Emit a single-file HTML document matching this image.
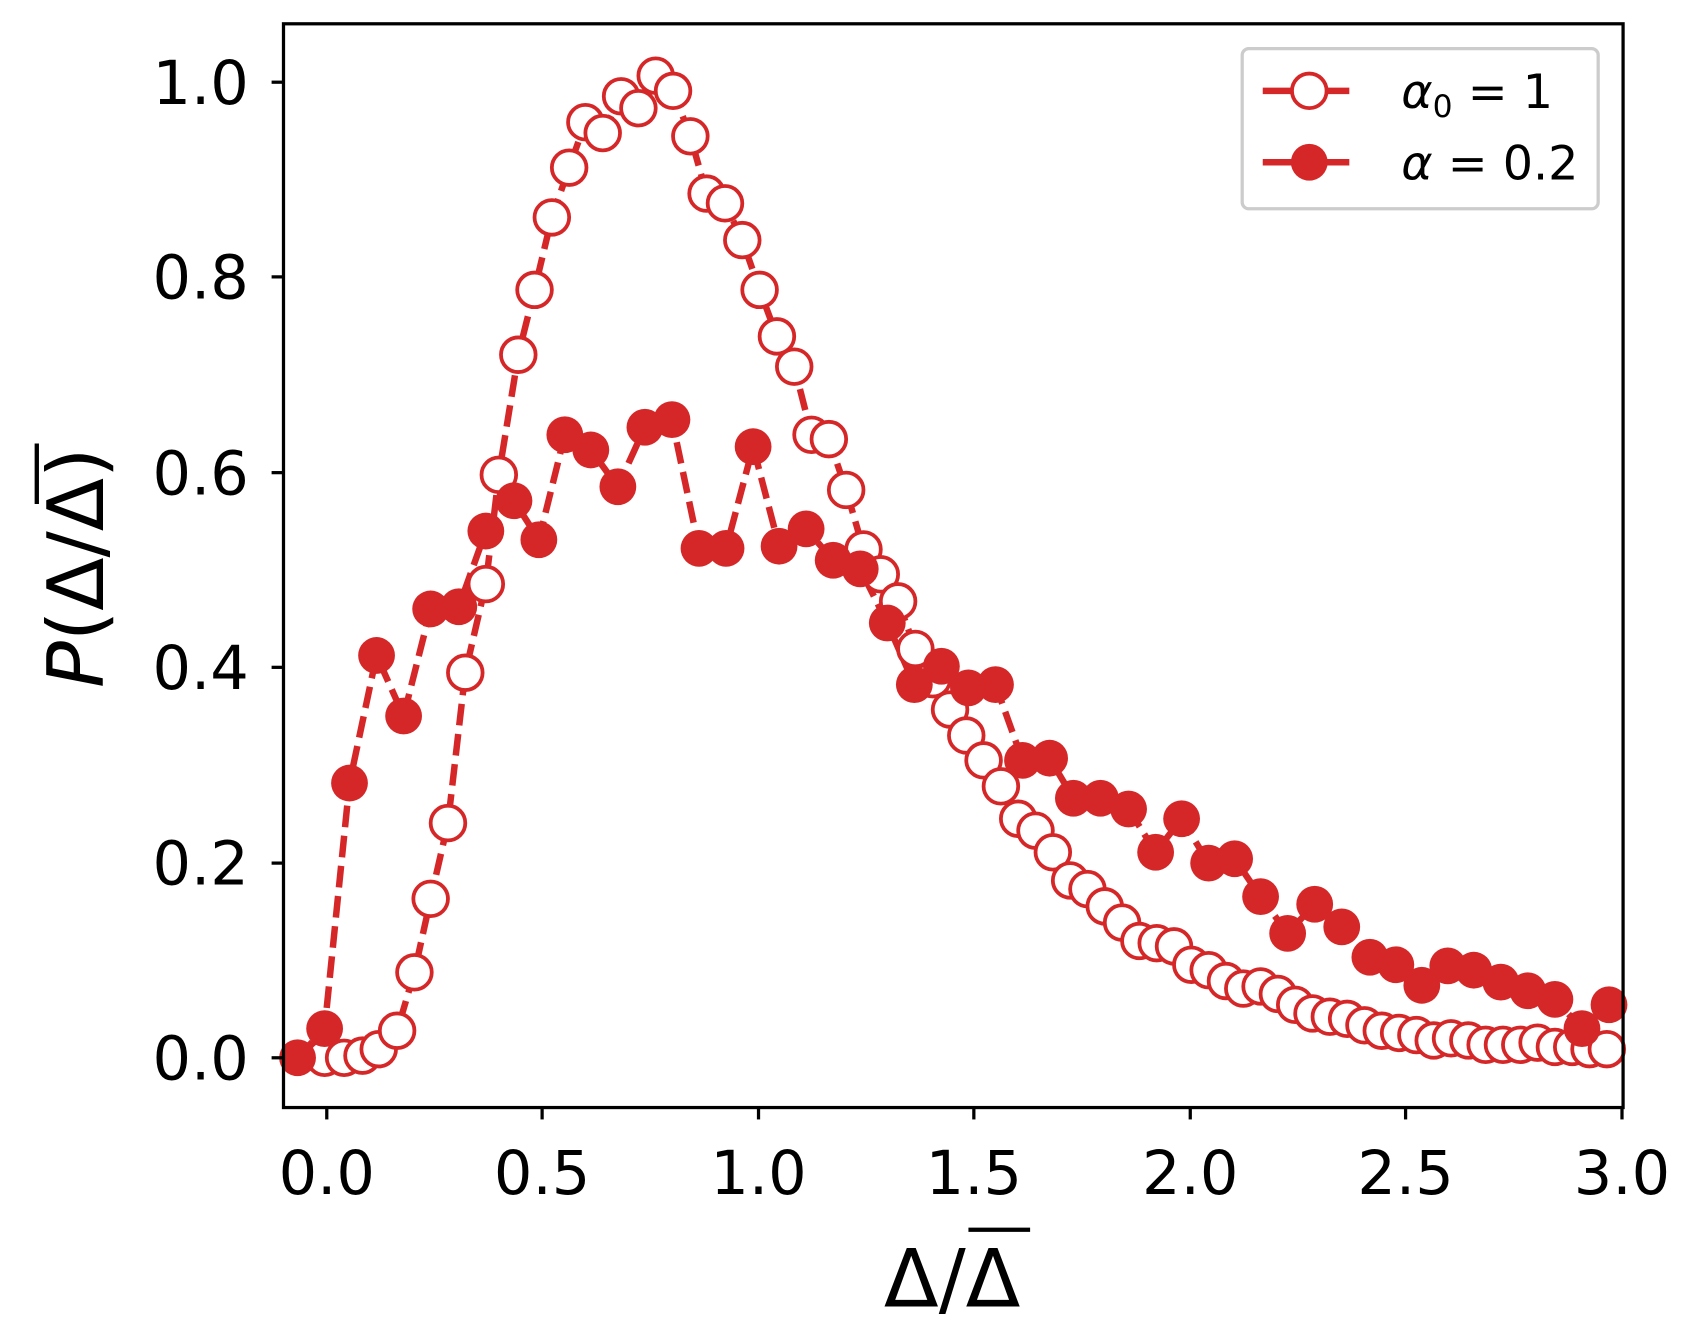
<!DOCTYPE html>
<html><head><meta charset="utf-8"><style>html,body{margin:0;padding:0;background:#fff}svg{display:block}</style></head>
<body>
<svg width="1688" height="1339" viewBox="0 0 1560 1238" preserveAspectRatio="none" xmlns="http://www.w3.org/2000/svg" font-family="'DejaVu Sans', 'Liberation Sans', sans-serif">
<rect width="1560" height="1238" fill="#fff"/>
<g stroke="#d62728" stroke-width="6" fill="none" stroke-dasharray="20,8">
<polyline points="300,978 318,978 335,976 350,970 367,953 383,899 398,831 414,761 430,622 449,540 461,439 479,328 494,268 510,201 526,155 541,113 557,123 574,89 590,100 606,70 622,84 638,126 653,179 670,188 686,222 702,268 718,311 734,339 750,402 766,406 782,453 798,508 814,531 830,556 846,600 862,628 878,656 893,680 909,703 925,727 941,757 957,768 973,788 989,814 1005,822 1021,838 1037,853 1053,870 1069,872 1085,875 1101,892 1117,897 1133,907 1149,914 1165,912 1181,919 1197,929 1213,937 1229,940 1245,942 1261,948 1277,953 1293,955 1309,957 1325,962 1341,960 1357,962 1373,966 1389,966 1405,966 1421,964 1437,968 1453,968 1469,970 1485,970"/>
<polyline points="275,978 300,951 323,724 348,606 373,662 398,563 424,561 449,491 475,463 498,499 522,402 546,416 571,450 596,395 621,388 646,507 671,507 696,413 720,505 745,489 770,518 795,526 820,576 845,633 870,616 895,636 920,633 945,703 970,701 992,738 1017,738 1043,748 1068,788 1092,757 1117,798 1141,794 1165,829 1190,863 1215,836 1240,857 1266,885 1290,892 1314,911 1338,893 1362,897 1387,908 1412,916 1437,924 1462,951 1487,929"/>
</g>
<g fill="#fff" stroke="#d62728" stroke-width="3.5">
<circle cx="300" cy="978" r="16"/><circle cx="318" cy="978" r="16"/><circle cx="335" cy="976" r="16"/><circle cx="350" cy="970" r="16"/><circle cx="367" cy="953" r="16"/><circle cx="383" cy="899" r="16"/><circle cx="398" cy="831" r="16"/><circle cx="414" cy="761" r="16"/><circle cx="430" cy="622" r="16"/><circle cx="449" cy="540" r="16"/><circle cx="461" cy="439" r="16"/><circle cx="479" cy="328" r="16"/><circle cx="494" cy="268" r="16"/><circle cx="510" cy="201" r="16"/><circle cx="526" cy="155" r="16"/><circle cx="541" cy="113" r="16"/><circle cx="557" cy="123" r="16"/><circle cx="574" cy="89" r="16"/><circle cx="590" cy="100" r="16"/><circle cx="606" cy="70" r="16"/><circle cx="622" cy="84" r="16"/><circle cx="638" cy="126" r="16"/><circle cx="653" cy="179" r="16"/><circle cx="670" cy="188" r="16"/><circle cx="686" cy="222" r="16"/><circle cx="702" cy="268" r="16"/><circle cx="718" cy="311" r="16"/><circle cx="734" cy="339" r="16"/><circle cx="750" cy="402" r="16"/><circle cx="766" cy="406" r="16"/><circle cx="782" cy="453" r="16"/><circle cx="798" cy="508" r="16"/><circle cx="814" cy="531" r="16"/><circle cx="830" cy="556" r="16"/><circle cx="846" cy="600" r="16"/><circle cx="862" cy="628" r="16"/><circle cx="878" cy="656" r="16"/><circle cx="893" cy="680" r="16"/><circle cx="909" cy="703" r="16"/><circle cx="925" cy="727" r="16"/><circle cx="941" cy="757" r="16"/><circle cx="957" cy="768" r="16"/><circle cx="973" cy="788" r="16"/><circle cx="989" cy="814" r="16"/><circle cx="1005" cy="822" r="16"/><circle cx="1021" cy="838" r="16"/><circle cx="1037" cy="853" r="16"/><circle cx="1053" cy="870" r="16"/><circle cx="1069" cy="872" r="16"/><circle cx="1085" cy="875" r="16"/><circle cx="1101" cy="892" r="16"/><circle cx="1117" cy="897" r="16"/><circle cx="1133" cy="907" r="16"/><circle cx="1149" cy="914" r="16"/><circle cx="1165" cy="912" r="16"/><circle cx="1181" cy="919" r="16"/><circle cx="1197" cy="929" r="16"/><circle cx="1213" cy="937" r="16"/><circle cx="1229" cy="940" r="16"/><circle cx="1245" cy="942" r="16"/><circle cx="1261" cy="948" r="16"/><circle cx="1277" cy="953" r="16"/><circle cx="1293" cy="955" r="16"/><circle cx="1309" cy="957" r="16"/><circle cx="1325" cy="962" r="16"/><circle cx="1341" cy="960" r="16"/><circle cx="1357" cy="962" r="16"/><circle cx="1373" cy="966" r="16"/><circle cx="1389" cy="966" r="16"/><circle cx="1405" cy="966" r="16"/><circle cx="1421" cy="964" r="16"/><circle cx="1437" cy="968" r="16"/><circle cx="1453" cy="968" r="16"/><circle cx="1469" cy="970" r="16"/><circle cx="1485" cy="970" r="16"/>
</g>
<g fill="#d62728">
<circle cx="275" cy="978" r="17"/><circle cx="300" cy="951" r="17"/><circle cx="323" cy="724" r="17"/><circle cx="348" cy="606" r="17"/><circle cx="373" cy="662" r="17"/><circle cx="398" cy="563" r="17"/><circle cx="424" cy="561" r="17"/><circle cx="449" cy="491" r="17"/><circle cx="475" cy="463" r="17"/><circle cx="498" cy="499" r="17"/><circle cx="522" cy="402" r="17"/><circle cx="546" cy="416" r="17"/><circle cx="571" cy="450" r="17"/><circle cx="596" cy="395" r="17"/><circle cx="621" cy="388" r="17"/><circle cx="646" cy="507" r="17"/><circle cx="671" cy="507" r="17"/><circle cx="696" cy="413" r="17"/><circle cx="720" cy="505" r="17"/><circle cx="745" cy="489" r="17"/><circle cx="770" cy="518" r="17"/><circle cx="795" cy="526" r="17"/><circle cx="820" cy="576" r="17"/><circle cx="845" cy="633" r="17"/><circle cx="870" cy="616" r="17"/><circle cx="895" cy="636" r="17"/><circle cx="920" cy="633" r="17"/><circle cx="945" cy="703" r="17"/><circle cx="970" cy="701" r="17"/><circle cx="992" cy="738" r="17"/><circle cx="1017" cy="738" r="17"/><circle cx="1043" cy="748" r="17"/><circle cx="1068" cy="788" r="17"/><circle cx="1092" cy="757" r="17"/><circle cx="1117" cy="798" r="17"/><circle cx="1141" cy="794" r="17"/><circle cx="1165" cy="829" r="17"/><circle cx="1190" cy="863" r="17"/><circle cx="1215" cy="836" r="17"/><circle cx="1240" cy="857" r="17"/><circle cx="1266" cy="885" r="17"/><circle cx="1290" cy="892" r="17"/><circle cx="1314" cy="911" r="17"/><circle cx="1338" cy="893" r="17"/><circle cx="1362" cy="897" r="17"/><circle cx="1387" cy="908" r="17"/><circle cx="1412" cy="916" r="17"/><circle cx="1437" cy="924" r="17"/><circle cx="1462" cy="951" r="17"/><circle cx="1487" cy="929" r="17"/>
</g>
<rect x="262" y="22" width="1238" height="1002" fill="none" stroke="#000" stroke-width="3"/>
<g stroke="#000" stroke-width="3">
<line x1="262" y1="978" x2="251" y2="978"/><line x1="262" y1="798" x2="251" y2="798"/><line x1="262" y1="617" x2="251" y2="617"/><line x1="262" y1="437" x2="251" y2="437"/><line x1="262" y1="256" x2="251" y2="256"/><line x1="262" y1="76" x2="251" y2="76"/>
<line x1="302" y1="1024" x2="302" y2="1035"/><line x1="501" y1="1024" x2="501" y2="1035"/><line x1="701" y1="1024" x2="701" y2="1035"/><line x1="900" y1="1024" x2="900" y2="1035"/><line x1="1100" y1="1024" x2="1100" y2="1035"/><line x1="1299" y1="1024" x2="1299" y2="1035"/><line x1="1499" y1="1024" x2="1499" y2="1035"/>
</g>
<g font-size="56" fill="#000" text-anchor="end">
<text x="230" y="998">0.0</text><text x="230" y="818">0.2</text><text x="230" y="637">0.4</text><text x="230" y="457">0.6</text><text x="230" y="276">0.8</text><text x="230" y="96">1.0</text>
</g>
<g font-size="56" fill="#000" text-anchor="middle">
<text x="302" y="1104">0.0</text><text x="501" y="1104">0.5</text><text x="701" y="1104">1.0</text><text x="900" y="1104">1.5</text><text x="1100" y="1104">2.0</text><text x="1299" y="1104">2.5</text><text x="1499" y="1104">3.0</text>
</g>
<text x="880" y="1208" font-size="74" text-anchor="middle">Δ/Δ</text>
<line x1="895" y1="1137" x2="952" y2="1137" stroke="#000" stroke-width="4"/>
<g transform="translate(95,525) rotate(-90)">
<text x="0" y="0" font-size="72" text-anchor="middle"><tspan font-style="italic">P</tspan>(Δ/Δ)</text>
</g>
<line x1="34" y1="410" x2="34" y2="466" stroke="#000" stroke-width="4"/>
<rect x="1148" y="45" width="329" height="148" rx="6" fill="#fff" stroke="#ccc" stroke-width="3"/>
<line x1="1167" y1="84" x2="1247" y2="84" stroke="#d62728" stroke-width="6"/>
<circle cx="1210" cy="84" r="16" fill="#fff" stroke="#d62728" stroke-width="3.5"/>
<line x1="1167" y1="150" x2="1247" y2="150" stroke="#d62728" stroke-width="6"/>
<circle cx="1210" cy="150" r="17" fill="#d62728"/>
<text x="1295" y="100" font-size="44"><tspan font-style="italic">α</tspan><tspan font-size="29" dy="8">0</tspan><tspan dy="-8"> = 1</tspan></text>
<text x="1295" y="166" font-size="44"><tspan font-style="italic">α</tspan> = 0.2</text>
</svg>
</body></html>
